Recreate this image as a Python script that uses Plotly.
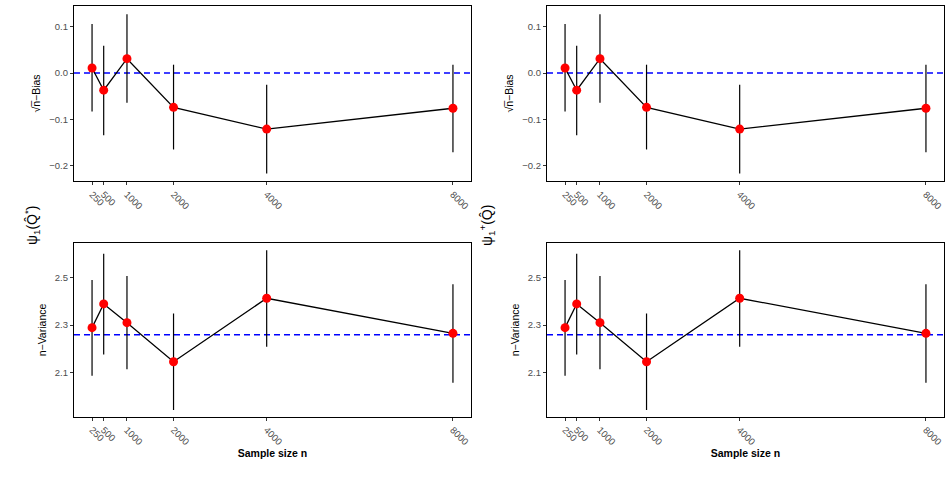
import plotly.graph_objects as go

n_vals = [250, 500, 1000, 2000, 4000, 8000]
x_tick_text = ["250", "500", "1000", "2000", "4000", "8000"]

bias = [0.011, -0.037, 0.031, -0.074, -0.121, -0.076]
bias_hi = [0.106, 0.059, 0.127, 0.018, -0.025, 0.018]
bias_lo = [-0.083, -0.134, -0.064, -0.165, -0.217, -0.171]
bias_ref = 0.0

var = [2.289, 2.389, 2.310, 2.145, 2.413, 2.265]
var_hi = [2.490, 2.601, 2.507, 2.349, 2.616, 2.472]
var_lo = [2.086, 2.176, 2.113, 1.941, 2.208, 2.056]
var_ref = 2.259

bias_ticks = [-0.2, -0.1, 0.0, 0.1]
var_ticks = [2.1, 2.3, 2.5]

W, H = 952, 479
fig = go.Figure()

def px_x(a, b):
    return [a / W, b / W]

def px_y(top, bot):
    return [1 - bot / H, 1 - top / H]

xdoms = [px_x(74, 471), px_x(547, 944)]
ydoms = [px_y(6, 181), px_y(243.3, 416.7)]

font_tick = dict(family="Liberation Sans, Arial, sans-serif", size=9.5, color="#4d4d4d")

idx = 0
for col in range(2):
    for row in range(2):
        idx += 1
        xa = "x" if idx == 1 else f"x{idx}"
        ya = "y" if idx == 1 else f"y{idx}"
        if row == 0:
            yv, hi, lo, ref = bias, bias_hi, bias_lo, bias_ref
        else:
            yv, hi, lo, ref = var, var_hi, var_lo, var_ref
        up = [h - v for h, v in zip(hi, yv)]
        dn = [v - l for v, l in zip(yv, lo)]
        fig.add_trace(go.Scatter(x=[-137.5, 8387.5], y=[ref, ref], mode="lines",
                                 line=dict(color="#0000ff", width=1.6, dash="6px,4px"),
                                 xaxis=xa, yaxis=ya, showlegend=False, hoverinfo="skip"))
        fig.add_trace(go.Scatter(x=n_vals, y=yv, mode="lines+markers",
                                 line=dict(color="black", width=1.3),
                                 marker=dict(color="#ff0000", size=9),
                                 error_y=dict(type="data", array=up, arrayminus=dn, symmetric=False,
                                              color="black", thickness=1.2, width=0),
                                 xaxis=xa, yaxis=ya, showlegend=False))
        xkey = "xaxis" if idx == 1 else f"xaxis{idx}"
        ykey = "yaxis" if idx == 1 else f"yaxis{idx}"
        fig.layout[xkey] = dict(domain=xdoms[col], anchor=ya, range=[-137.5, 8387.5],
                                tickvals=n_vals, ticktext=x_tick_text, tickangle=45,
                                showgrid=False, zeroline=False, showline=True, mirror=True,
                                linecolor="black", linewidth=1.3, ticks="outside", ticklen=3,
                                tickcolor="#333333", tickfont=font_tick,
                                title=dict(text="Sample size n" if row == 1 else "",
                                           font=dict(family="Liberation Sans, Arial, sans-serif",
                                                     size=10.5, color="black", weight="bold"),
                                           standoff=0))
        if row == 0:
            yr = [-0.233, 0.1447]
            ytitle = "√n̅−Bias"
            tv = bias_ticks
        else:
            yr = [1.913, 2.645]
            ytitle = "n−Variance"
            tv = var_ticks
        fig.layout[ykey] = dict(domain=ydoms[row], anchor=xa, range=yr, tickvals=tv,
                                tickformat=".1f",
                                showgrid=False, zeroline=False, showline=True, mirror=True,
                                linecolor="black", linewidth=1.3, ticks="outside", ticklen=3,
                                tickcolor="#333333", tickfont=font_tick,
                                title=dict(text=ytitle,
                                           font=dict(family="Liberation Sans, Arial, sans-serif",
                                                     size=10.5, color="black"),
                                           standoff=6))

fig.add_annotation(x=20 / W, y=1 - 225 / H, xref="paper", yref="paper",
                   text="ψ<sub>1</sub>(Q̂<sup>*</sup>)", showarrow=False, textangle=-90,
                   font=dict(family="Liberation Sans, Arial, sans-serif", size=14, color="black"))
fig.add_annotation(x=487 / W, y=1 - 225 / H, xref="paper", yref="paper",
                   text="ψ<sub>1</sub><sup>+</sup>(Q̂)", showarrow=False, textangle=-90,
                   font=dict(family="Liberation Sans, Arial, sans-serif", size=14, color="black"))

fig.update_layout(width=W, height=H, margin=dict(l=0, r=0, t=0, b=0),
                  paper_bgcolor="white", plot_bgcolor="white")
fig.write_html("out.html")
